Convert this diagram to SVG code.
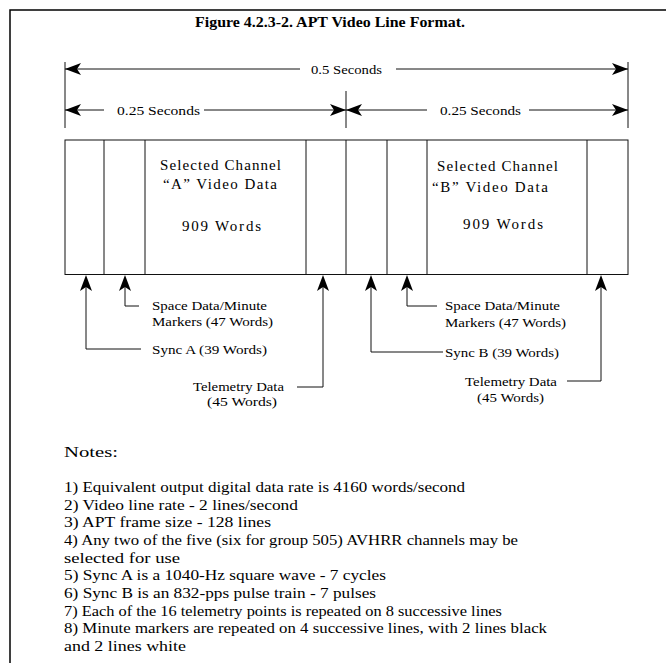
<svg xmlns="http://www.w3.org/2000/svg" width="666" height="663" viewBox="0 0 666 663">
<style>
text{font-family:"Liberation Serif","Times New Roman",serif;fill:#000}
.t{font-size:13px}
.b{font-size:15px}
.n{font-size:14.5px}
.ln{stroke:#111;stroke-width:1;fill:none}
.ah{fill:#000;stroke:none}
</style>
<defs>
<polygon id="al" class="ah" points="0,0 16,-6 12,0 16,6"/>
<polygon id="ar" class="ah" points="0,0 -16,-6 -12,0 -16,6"/>
<polygon id="au" class="ah" points="0,0 -6,16 0,12 6,16"/>
</defs>
<rect x="10" y="10" width="700" height="700" fill="#fff" stroke="#000" stroke-width="1.5"/>
<text x="330" y="27" text-anchor="middle" font-weight="bold" font-size="15" textLength="270" lengthAdjust="spacingAndGlyphs">Figure 4.2.3-2.  APT Video Line Format.</text>

<g id="dimensions">
<line class="ln" x1="65" y1="62" x2="65" y2="128"/>
<line class="ln" x1="628" y1="62" x2="628" y2="128"/>
<line class="ln" x1="346" y1="91" x2="346" y2="128"/>
<line class="ln" x1="65" y1="69" x2="300" y2="69"/>
<line class="ln" x1="396" y1="69" x2="628" y2="69"/>
<use href="#al" x="65" y="69"/>
<use href="#ar" x="628" y="69"/>
<text class="t" x="311" y="74" textLength="71" lengthAdjust="spacingAndGlyphs">0.5 Seconds</text>
<line class="ln" x1="65" y1="110" x2="104" y2="110"/>
<line class="ln" x1="204" y1="110" x2="346" y2="110"/>
<use href="#al" x="65" y="110"/>
<use href="#ar" x="346" y="110"/>
<text class="t" x="117" y="115" textLength="83" lengthAdjust="spacingAndGlyphs">0.25 Seconds</text>
<line class="ln" x1="346" y1="110" x2="427" y2="110"/>
<line class="ln" x1="529" y1="110" x2="628" y2="110"/>
<use href="#al" x="346" y="110"/>
<use href="#ar" x="628" y="110"/>
<text class="t" x="440" y="115" textLength="81" lengthAdjust="spacingAndGlyphs">0.25 Seconds</text>
</g>

<g id="line-frame">
<rect class="ln" x="65" y="140" width="563" height="134.5"/>
<line class="ln" x1="104" y1="140" x2="104" y2="274.5"/>
<line class="ln" x1="145" y1="140" x2="145" y2="274.5"/>
<line class="ln" x1="306" y1="140" x2="306" y2="274.5"/>
<line class="ln" x1="346" y1="140" x2="346" y2="274.5"/>
<line class="ln" x1="387" y1="140" x2="387" y2="274.5"/>
<line class="ln" x1="427" y1="140" x2="427" y2="274.5"/>
<line class="ln" x1="587" y1="140" x2="587" y2="274.5"/>
</g>

<g id="channel-a">
<text class="b" x="160" y="170" textLength="121">Selected Channel</text>
<text class="b" x="163" y="189" textLength="114">“A” Video Data</text>
<text class="b" x="182" y="231" textLength="79">909 Words</text>
</g>
<g id="channel-b">
<text class="b" x="437" y="171" textLength="121">Selected Channel</text>
<text class="b" x="432" y="192" textLength="116">“B” Video Data</text>
<text class="b" x="463" y="229" textLength="80">909 Words</text>
</g>

<g id="connectors">
<polyline class="ln" points="86,285 86,349 141,349"/>
<use href="#au" x="86" y="275"/>
<polyline class="ln" points="125,285 125,306 139,306"/>
<use href="#au" x="125" y="275"/>
<polyline class="ln" points="323,285 323,387 297,387"/>
<use href="#au" x="323" y="275"/>
<polyline class="ln" points="371,285 371,352 443,352"/>
<use href="#au" x="371" y="275"/>
<polyline class="ln" points="407,285 407,306 437,306"/>
<use href="#au" x="407" y="275"/>
<polyline class="ln" points="601,285 601,381 567,381"/>
<use href="#au" x="601" y="275"/>
</g>

<g id="labels-a">
<text class="t" x="152" y="310" textLength="115" lengthAdjust="spacingAndGlyphs">Space Data/Minute</text>
<text class="t" x="152" y="326" textLength="121" lengthAdjust="spacingAndGlyphs">Markers (47 Words)</text>
<text class="t" x="152" y="354" textLength="115" lengthAdjust="spacingAndGlyphs">Sync A (39 Words)</text>
<text class="t" x="193" y="391" textLength="91" lengthAdjust="spacingAndGlyphs">Telemetry Data</text>
<text class="t" x="207" y="406" textLength="70" lengthAdjust="spacingAndGlyphs">(45 Words)</text>
</g>
<g id="labels-b">
<text class="t" x="445" y="310" textLength="115" lengthAdjust="spacingAndGlyphs">Space Data/Minute</text>
<text class="t" x="445" y="327" textLength="121" lengthAdjust="spacingAndGlyphs">Markers (47 Words)</text>
<text class="t" x="445" y="357" textLength="114" lengthAdjust="spacingAndGlyphs">Sync B (39 Words)</text>
<text class="t" x="465" y="386" textLength="92" lengthAdjust="spacingAndGlyphs">Telemetry Data</text>
<text class="t" x="477" y="402" textLength="67" lengthAdjust="spacingAndGlyphs">(45 Words)</text>
</g>

<g id="notes">
<text class="n" x="64" y="457" textLength="54" lengthAdjust="spacingAndGlyphs">Notes:</text>
<text class="n" x="64" y="492" textLength="401" lengthAdjust="spacingAndGlyphs">1) Equivalent output digital data rate is 4160 words/second</text>
<text class="n" x="64" y="510" textLength="234" lengthAdjust="spacingAndGlyphs">2) Video line rate - 2 lines/second</text>
<text class="n" x="64" y="527" textLength="207" lengthAdjust="spacingAndGlyphs">3) APT frame size - 128 lines</text>
<text class="n" x="64" y="545" textLength="454" lengthAdjust="spacingAndGlyphs">4) Any two of the five (six for group 505) AVHRR channels may be</text>
<text class="n" x="64" y="563" textLength="116" lengthAdjust="spacingAndGlyphs">selected for use</text>
<text class="n" x="64" y="580" textLength="322" lengthAdjust="spacingAndGlyphs">5) Sync A is a 1040-Hz square wave - 7 cycles</text>
<text class="n" x="64" y="598" textLength="312" lengthAdjust="spacingAndGlyphs">6) Sync B is an 832-pps pulse train - 7 pulses</text>
<text class="n" x="64" y="616" textLength="438" lengthAdjust="spacingAndGlyphs">7) Each of the 16 telemetry points is repeated on 8 successive lines</text>
<text class="n" x="64" y="633" textLength="483" lengthAdjust="spacingAndGlyphs">8) Minute markers are repeated on 4 successive lines, with 2 lines black</text>
<text class="n" x="64" y="651" textLength="122" lengthAdjust="spacingAndGlyphs">and 2 lines white</text>
</g>
</svg>
